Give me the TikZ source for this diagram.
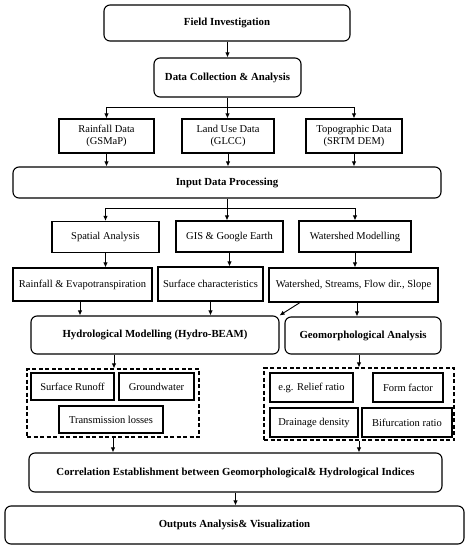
\documentclass[tikz,border=0pt]{standalone}
\usepackage{fontspec}
\setmainfont{Liberation Serif}
\usetikzlibrary{arrows.meta}
\begin{document}
\begin{tikzpicture}[x=1pt,y=-1pt,
  every node/.style={font=\fontsize{10.5}{12.5}\selectfont, align=center, inner sep=0pt},
  plainbox/.style={draw, line width=1.1pt},
  roundbox/.style={draw, line width=1.1pt, rounded corners=6pt, font=\fontsize{10.8}{12.5}\selectfont\bfseries},
  groupbox/.style={draw, line width=1.1pt, dashed, dash pattern=on 4pt off 2.5pt},
  conn/.style={line width=0.9pt, -{Latex[length=5pt,width=4.5pt]}},
  plainline/.style={line width=0.9pt}]
\useasboundingbox (0,0) rectangle (469,550);

% nodes
\node[roundbox, minimum width=246pt, minimum height=36pt] (fi) at (227,23) {Field Investigation};
\node[roundbox, minimum width=147pt, minimum height=39pt] (dc) at (227.5,77.5) {Data Collection \& Analysis};
\node[plainbox, minimum width=95pt, minimum height=34pt] (rain) at (106.5,136) {Rainfall Data\\(GSMaP)};
\node[plainbox, minimum width=92pt, minimum height=34pt] (land) at (228,136) {Land Use Data\\(GLCC)};
\node[plainbox, minimum width=96pt, minimum height=34pt] (topo) at (354,136) {Topographic Data\\(SRTM DEM)};
\node[roundbox, minimum width=428pt, minimum height=31pt] (idp) at (227,182.5) {Input Data Processing};
\node[plainbox, minimum width=107pt, minimum height=31pt] (sa) at (105.5,237) {Spatial Analysis};
\node[plainbox, minimum width=107pt, minimum height=31pt] (gis) at (229.5,236.5) {GIS \& Google Earth};
\node[plainbox, minimum width=112pt, minimum height=31pt] (wm) at (355,236.5) {Watershed Modelling};
\node[plainbox, minimum width=139pt, minimum height=33pt] (re) at (82.5,284.5) {Rainfall \& Evapotranspiration};
\node[plainbox, minimum width=105pt, minimum height=34pt] (sc) at (210.5,284) {Surface characteristics};
\node[plainbox, minimum width=169pt, minimum height=34pt] (ws) at (353.5,285) {Watershed, Streams, Flow dir., Slope};
\node[roundbox, minimum width=248pt, minimum height=38pt] (hm) at (155,335) {Hydrological Modelling (Hydro-BEAM)};
\node[roundbox, minimum width=156pt, minimum height=37pt] (ga) at (363,335.5) {Geomorphological Analysis};

\node[groupbox, minimum width=172pt, minimum height=68pt] (lg) at (113,403) {};
\node[plainbox, minimum width=83pt, minimum height=27pt] (sr) at (72.5,386.5) {Surface Runoff};
\node[plainbox, minimum width=75pt, minimum height=27pt] (gw) at (156.5,386.5) {Groundwater};
\node[plainbox, minimum width=104pt, minimum height=27pt] (tl) at (111,419.5) {Transmission losses};

\node[groupbox, minimum width=190pt, minimum height=72pt] (rg) at (359,404) {};
\node[plainbox, minimum width=83pt, minimum height=29pt] (rr) at (311.5,387.5) {e.g. Relief ratio};
\node[plainbox, minimum width=70pt, minimum height=29pt] (ff) at (408,387.5) {Form factor};
\node[plainbox, minimum width=88pt, minimum height=29pt] (dd) at (314,422.5) {Drainage density};
\node[plainbox, minimum width=90pt, minimum height=29pt] (br) at (407,422.5) {Bifurcation ratio};

\node[roundbox, minimum width=413pt, minimum height=39pt] (corr) at (235.5,472.5) {Correlation Establishment between Geomorphological\& Hydrological Indices};
\node[roundbox, minimum width=459pt, minimum height=38pt] (out) at (234.5,525) {Outputs Analysis\& Visualization};

% branch coordinates
\coordinate (b1) at (227.5,107);
\coordinate (b2) at (227,208);

% connectors
\draw[conn] (fi.south -| dc.north) -- (dc.north);
\draw[plainline] (dc.south) -- (b1);
\draw[conn] (b1) -| (rain.north);
\draw[conn] (b1) -- (b1 |- land.north);
\draw[conn] (b1) -| (topo.north);
\draw[conn] (rain.south) -- (rain.south |- idp.north);
\draw[conn] (land.south) -- (land.south |- idp.north);
\draw[conn] (topo.south) -- (topo.south |- idp.north);
\draw[plainline] (idp.south) -- (b2);
\draw[conn] (b2) -| (sa.north);
\draw[conn] (b2) -- (b2 |- gis.north);
\draw[conn] (b2) -| (wm.north);
\draw[conn] (sa.south) -- (sa.south |- re.north);
\draw[conn] (gis.south) -- (gis.south |- sc.north);
\draw[conn] (wm.south) -- (wm.south |- ws.north);
\draw[conn] (re.south -| 80,0) -- (80,0 |- hm.north);
\draw[conn] (sc.south) -- (sc.south |- hm.north);
\draw[conn] (ws.south -| 357,0) -- (357,0 |- ga.north);
\draw[conn] (ws.south -| 300,0) -- (hm.north east);
\draw[conn] (hm.south -| 114,0) -- (114,0 |- lg.north);
\draw[conn] (ga.south -| 359,0) -- (359,0 |- rg.north);
\draw[conn] (lg.south) -- (lg.south |- corr.north);
\draw[conn] (rg.south) -- (rg.south |- corr.north);
\draw[conn] (corr.south) -- (corr.south |- out.north);
\end{tikzpicture}
\end{document}
